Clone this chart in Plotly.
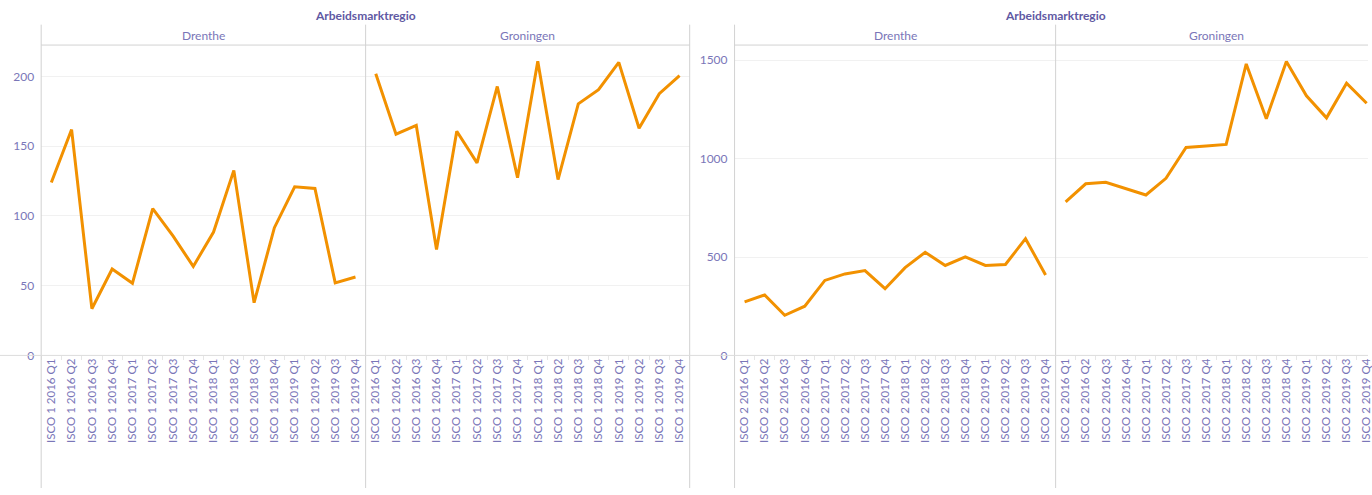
import plotly.graph_objects as go

# ---------------- data ----------------
quarters = ["2016 Q1", "2016 Q2", "2016 Q3", "2016 Q4",
            "2017 Q1", "2017 Q2", "2017 Q3", "2017 Q4",
            "2018 Q1", "2018 Q2", "2018 Q3", "2018 Q4",
            "2019 Q1", "2019 Q2", "2019 Q3", "2019 Q4"]
regions = ["Drenthe", "Groningen"]
isco_groups = ["ISCO 1", "ISCO 2"]

isco1_drenthe = [124, 162, 33.5, 62, 51.7, 105.3, 85.7, 63.8,
                 88.5, 132.7, 37.8, 91.6, 120.9, 119.7, 52, 56.2]
isco1_groningen = [202, 158.7, 165, 76, 160.8, 138.1, 192.9, 127.5,
                   210.9, 126.1, 180.4, 190.6, 210.2, 162.9, 187.7, 200.7]
isco2_drenthe = [272, 307, 204, 250, 381, 414, 431, 339,
                 446, 524, 457, 501, 457, 462, 593, 409]
isco2_groningen = [780, 872, 880, 848, 815, 900, 1057, 1064,
                   1072, 1481, 1202, 1493, 1319, 1207, 1383, 1281]

y1_ticks = [0, 50, 100, 150, 200]
y2_ticks = [0, 500, 1000, 1500]
header_title = "Arbeidsmarktregio"

# ---------------- styling ----------------
W, H = 1372, 495
FONT = "Lato"
TXT = "#7a76b8"
TITLE_C = "#5f59a3"
LINE_C = "#f29100"
RULE = "#d2d2d2"
GRID = "#f1f1f1"


def px(x):
    return x / W


def py(y):
    return 1 - y / H


TOP, BOT = 45.7, 360.5
facet_edges = [(41.3, 366.7), (366.7, 691.7), (736.7, 1058.7), (1058.7, 1380.7)]

fig = go.Figure()

series = [isco1_drenthe, isco1_groningen, isco2_drenthe, isco2_groningen]
for i, vals in enumerate(series):
    grp = isco_groups[i // 2]
    labels = [f"{grp} {q}" for q in quarters]
    xa = "x" if i == 0 else f"x{i + 1}"
    ya = "y" if i < 2 else "y2"
    fig.add_trace(go.Scatter(x=labels, y=vals, mode="lines",
                             line=dict(color=LINE_C, width=3),
                             xaxis=xa, yaxis=ya, showlegend=False,
                             hoverinfo="x+y"))

xcommon = dict(type="category", showgrid=False, zeroline=False, showline=False,
               tickangle=-90, ticks="outside", tickson="boundaries", ticklen=4,
               tickcolor="#e6e6e6", tickfont=dict(family=FONT, size=11.5, color=TXT),
               fixedrange=True)
ycommon = dict(showgrid=True, gridcolor=GRID, gridwidth=1, zeroline=False,
               showline=False, ticks="", tickfont=dict(family=FONT, size=12, color=TXT),
               domain=[py(BOT), py(TOP)], fixedrange=True, ticklabelstandoff=6)

layout = dict(
    width=W, height=H, margin=dict(l=0, r=0, t=0, b=0),
    paper_bgcolor="white", plot_bgcolor="white", showlegend=False,
    xaxis=dict(domain=[px(41.3), px(366.7)], anchor="y", range=[-0.5, 15.5], **xcommon),
    xaxis2=dict(domain=[px(366.7), px(691.7)], anchor="y", range=[-0.5, 15.5], **xcommon),
    xaxis3=dict(domain=[px(736.7), px(1058.7)], anchor="y2", range=[-0.5, 15.5], **xcommon),
    xaxis4=dict(domain=[px(1058.7), 1.0], anchor="y2",
                range=[-0.5, -0.5 + (W - 1058.7) / ((1058.7 - 736.7) / 16)], **xcommon),
    yaxis=dict(anchor="x", range=[0, 222.6], tickvals=y1_ticks, **ycommon),
    yaxis2=dict(anchor="x3", range=[0, 1577], tickvals=y2_ticks, **ycommon),
)
fig.update_layout(**layout)

# headers
ann = []
for cx in [(41.3 + 691.7) / 2, (736.7 + 1380.7) / 2]:
    ann.append(dict(text=header_title, x=px(cx), y=py(16), xref="paper", yref="paper",
                    showarrow=False, xanchor="center", yanchor="middle",
                    font=dict(family=FONT, size=12, color=TITLE_C, weight="bold")))
for k, (a, b) in enumerate(facet_edges):
    ann.append(dict(text=regions[k % 2], x=px((a + b) / 2), y=py(36), xref="paper",
                    yref="paper", showarrow=False, xanchor="center", yanchor="middle",
                    font=dict(family=FONT, size=12, color=TXT)))
fig.update_layout(annotations=ann)

# frame rules
shapes = []
for x in [41.3, 366.7, 691.7, 736.7, 1058.7]:
    shapes.append(dict(type="line", xref="paper", yref="paper", x0=px(x), x1=px(x),
                       y0=py(25), y1=py(H), line=dict(color=RULE, width=1)))
for (a, b) in [(41.3, 691.7), (736.7, W)]:
    shapes.append(dict(type="line", xref="paper", yref="paper", x0=px(a), x1=px(b),
                       y0=py(TOP), y1=py(TOP), line=dict(color=RULE, width=1)))
shapes.append(dict(type="line", xref="paper", yref="paper", x0=0, x1=1,
                   y0=py(BOT), y1=py(BOT), line=dict(color="#dcdcdc", width=1)))
fig.update_layout(shapes=shapes)

fig.write_html("out.html", config={"displayModeBar": False},
               post_script="document.body.style.margin='0';document.body.style.overflow='hidden';")
